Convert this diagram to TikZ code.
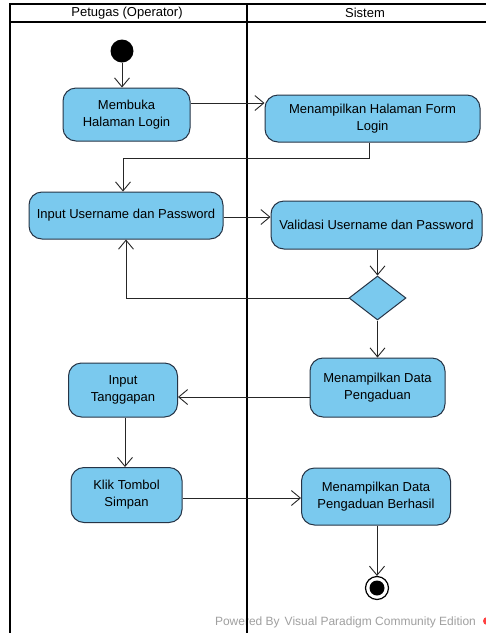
\documentclass[tikz,border=0pt]{standalone}
\usepackage{fontspec}
\setmainfont{Liberation Sans}
\usetikzlibrary{arrows.meta,shapes.geometric,calc}
\definecolor{actfill}{RGB}{122,201,238}
\definecolor{actline}{RGB}{38,52,70}
\definecolor{wmark}{RGB}{160,160,160}
\tikzset{
  act/.style={draw=actline, line width=1pt, fill=actfill, rounded corners=13pt,
    align=center, inner sep=0pt, font=\fontsize{13}{17}\selectfont},
  decision/.style={draw=actline, line width=1pt, fill=actfill, diamond,
    inner sep=0pt, minimum width=57pt, minimum height=44pt},
  flow/.style={draw=black!85, line width=0.9pt,
    -{Straight Barb[length=9pt,width=15pt,line width=0.9pt]}},
  lane/.style={draw=black, line width=2pt},
  hdr/.style={font=\fontsize{13}{15}\selectfont}
}
\begin{document}
\begin{tikzpicture}[x=1pt,y=-1pt]
\useasboundingbox (0,0) rectangle (486,633);
\fill[white] (0,0) rectangle (486,633);

% watermark (lane divider is drawn over it)
\node[text=wmark, font=\fontsize{12}{14}\selectfont] (wm) at (345.5,622)
  {Powered By\hspace{2pt}\hspace{3pt}Visual Paradigm Community Edition};
\fill[red!75!white] (487,621) circle (4);

% swimlane frame
\draw[lane] (10,4) -- (486,4);
\draw[line width=1.5pt] (10,22) -- (486,22);
\draw[lane] (10,3) -- (10,633);
\draw[lane] (246.5,3) -- (246.5,633);
\node[hdr] (h1) at (127,13) {Petugas (Operator)};
\node[hdr] (h2) at (365,13) {Sistem};

% initial and final nodes
\node[circle, fill=black, minimum size=23pt, inner sep=0pt] (start) at (122,51) {};
\node[circle, draw=black, line width=1.2pt, fill=white, minimum size=23pt, inner sep=0pt] (stop) at (377,588) {};
\fill[black] (stop.center) circle (7.5);

% activities
\node[act, minimum width=127pt, minimum height=53pt] (m1) at (126.5,114.5)
  {Membuka\\Halaman Login};
\node[act, minimum width=215pt, minimum height=47pt] (m2) at (372.5,118.5)
  {Menampilkan Halaman Form\\Login};
\node[act, minimum width=194pt, minimum height=47pt] (m3) at (126,215.5)
  {Input Username dan Password};
\node[act, minimum width=211pt, minimum height=48pt] (m4) at (376.5,225)
  {Validasi Username dan Password};
\node[decision] (d) at (377.5,298) {};
\node[act, minimum width=135pt, minimum height=59pt] (m5) at (377.5,387.5)
  {Menampilkan Data\\Pengaduan};
\node[act, minimum width=109pt, minimum height=54pt] (m6) at (123,390)
  {Input\\Tanggapan};
\node[act, minimum width=111pt, minimum height=55pt] (m7) at (126.5,495)
  {Klik Tombol\\Simpan};
\node[act, minimum width=149pt, minimum height=57pt] (m8) at (376,496.5)
  {Menampilkan Data\\Pengaduan Berhasil};

% control flows
\draw[flow] (start) -- (start |- m1.north);
\draw[flow] ([yshift=11.5pt]m1.east) coordinate (a1) -- (a1 -| m2.west);
\draw[flow] ([xshift=-3.5pt]m2.south) -- ++(0,16) -| ([xshift=-3pt]m3.north);
\draw[flow] ([yshift=-1.5pt]m3.east) coordinate (a2) -- (a2 -| m4.west);
\draw[flow] (m4.south -| d.north) -- (d.north);
\draw[flow] (d.west) -| (m3.south);
\draw[flow] (d.south) -- (d.south |- m5.north);
\draw[flow] ([yshift=-9.5pt]m5.west) coordinate (a3) -- (a3 -| m6.east);
\draw[flow] ([xshift=2pt]m6.south) coordinate (a4) -- (a4 |- m7.north);
\draw[flow] ([yshift=-3pt]m7.east) coordinate (a5) -- (a5 -| m8.west);
\draw[flow] (m8.south -| stop.north) -- (stop.north);
\end{tikzpicture}
\end{document}
